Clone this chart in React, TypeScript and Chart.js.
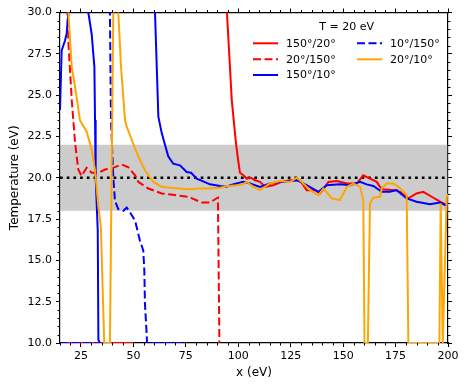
import React, { useEffect, useRef } from 'react';
import { Chart, registerables } from 'chart.js';

Chart.register(...registerables);

const FONT = "'DejaVu Sans', sans-serif";

// ---- axes ----
const xMin = 15;
const xMax = 200;
const yMin = 10;
const yMax = 30;
const xTickValues = [25, 50, 75, 100, 125, 150, 175, 200];
const yTickValues = [10, 12.5, 15, 17.5, 20, 22.5, 25, 27.5, 30];
const xMinorStep = 5;
const yMinorStep = 0.5;
const xLabel = 'x (eV)';
const yLabel = 'Temperature (eV)';

// ---- reference level and band ----
const refTemp = 20;
const bandLow = 18;
const bandHigh = 22;

// ---- series: 150°/20° (red solid) ----
const s150_20X = [15, 20, 25, 30, 35, 40, 45, 50, 51,
  93.6, 94.6, 96.9, 98.9, 100.0, 100.8, 102.4, 104, 106, 108, 110.4, 112.8, 116.7, 120.7, 124.7, 129.4,
  132.6, 136.6, 139, 143, 147, 151.8, 156.5, 159.6, 162.8, 166, 168.4, 174.8, 177.1, 181.1, 185, 188.2,
  192.2, 196.2, 198.6, 200];
const s150_20Y = [10, 10, 10, 10, 10, 10, 10, 10, null,
  31, 30, 24.7, 22.1, 21.0, 20.3, 20.15, 19.95, 20.0, 19.85, 19.75, 19.45, 19.55, 19.75, 19.85, 19.85,
  19.25, 19.25, 19.05, 19.75, 19.8, 19.65, 19.65, 20.15, 19.95, 19.75, 19.3, 19.25, 19.15, 18.75, 19.05, 19.15,
  18.85, 18.55, 18.4, 18.4];

// ---- series: 20°/150° (red dashed) ----
const s20_150X = [18.3, 19, 20.6, 22.2, 23.7, 25.3, 27.7, 30.1, 33.3, 36.5, 40.3, 44.4, 47.4, 50.8,
  52.3, 57.1, 63.5, 69.8, 76.2, 82.6, 86.5, 88.9, 90.3, 91.0];
const s20_150Y = [31, 28.2, 24.7, 22.1, 20.5, 20.1, 20.6, 20.3, 20.3, 20.5, 20.6, 20.8, 20.65, 20.15,
  19.75, 19.35, 19.05, 18.95, 18.85, 18.5, 18.5, 18.7, 18.8, 10];

// ---- series: 150°/10° (blue solid) ----
const s150_10X = [15, 15.8, 17.4, 18.2, 19, 19.3, 19.4,
  28.2, 28.5, 30.1, 31.4, 31.7, 32, 33, 33.3, 34, 34.1,
  60.0, 60.3, 61.9, 63.5, 66.6, 69, 72.2, 75.4, 77.5, 80.2, 83, 86.5, 91.3, 94.5, 96.1, 99.2, 102.4,
  105.6, 110.4, 115.1, 119.9, 124.7, 127.9, 132.6, 138.2, 142.2, 148.5, 153.3, 158.1, 161.2, 164.4,
  168.4, 172.3, 175.5, 180.3, 185, 191.4, 196.2, 198.6, 200];
const s150_10Y = [24.1, 27.7, 28.3, 28.75, 30, 31, null,
  31, 30, 28.7, 26.7, 23.5, 20, 16.8, 10.2, 10, null,
  31, 30, 23.7, 22.7, 21.3, 20.85, 20.75, 20.35, 20.3, 19.95, 19.8, 19.6, 19.5, 19.45, 19.55, 19.65, 19.75,
  19.65, 19.45, 19.65, 19.75, 19.8, 19.85, 19.55, 19.15, 19.55, 19.6, 19.55, 19.75, 19.6, 19.5,
  19.15, 19.15, 19.25, 18.75, 18.55, 18.4, 18.5, 18.35, 18.3];

// ---- series: 10°/150° (blue dashed) ----
const s10_150X = [15, 33, 33.1,
  38.7, 38.8, 39.3, 40, 40.4, 41.2, 42.8, 45.2, 46.8, 48.4, 50.8, 53.1, 54.7, 55.2, 55.5, 56.3, 56.5, 73];
const s10_150Y = [10, 10, null,
  31, 30, 23.5, 21.3, 20.05, 18.6, 18.1, 18.0, 18.2, 17.9, 17.4, 16.2, 15.6, 14.4, 12.4, 10.6, 10, 10];

// ---- series: 20°/10° (orange solid) ----
const s20_10X = [18.7, 19, 20.6, 22.2, 24.5, 25.3, 27.7, 30.1, 31.7, 33.2, 34.5, 36.1, 38.8, 40.4, 40.6, 40.7,
  42.6, 42.8, 44.1, 46, 46.8, 49.2, 52.3, 55.5, 59.5, 63.5, 67.5, 72, 76.2, 81.8, 86, 91.3, 95, 99.2, 102,
  104, 107.2, 110.4, 115.1, 119.9, 124.7, 127.9, 131, 134.2, 138.2, 140.6, 144.6, 148.5, 151.8, 154.9, 158.1,
  159.6, 160.2, 161.8, 162.8, 164.4, 167.6, 168.4, 170.7, 174, 176.3, 178.7, 180.3, 181.1, 195.9, 196.5,
  197.5, 199.4, 200];
const s20_10Y = [31, 30, 26.7, 25.5, 23.5, 23.3, 22.8, 21.7, 20.45, 18.4, 17.0, 10, 10, 30, 31, null,
  31, 30, 26.7, 23.5, 23.1, 22.3, 21.3, 20.45, 19.75, 19.45, 19.4, 19.35, 19.3, 19.35, 19.35, 19.4, 19.5, 19.55, 19.6,
  19.75, 19.45, 19.25, 19.65, 19.8, 19.75, 20.0, 19.65, 19.25, 18.95, 19.35, 18.75, 18.65, 19.45, 19.65, 19.45,
  18.65, 10, 10, 18.45, 18.8, 18.85, 19.35, 19.65, 19.65, 19.45, 19.15, 18.95, 10, 10, 18.45,
  10, 18.85, 19.0];

// ---- legend ----
const legendTitle = 'T = 20 eV';
const seriesLabels = ['150°/20°', '20°/150°', '150°/10°', '10°/150°', '20°/10°'];
const seriesColors = ['#ff0000', '#ff0000', '#0000ff', '#0000ff', '#ffa500'];
const seriesDashed = [false, true, false, true, false];

const DASH = [8, 3.5];

function pts(xs: number[], ys: (number | null)[]) {
  return xs.map((x, i) => ({ x, y: ys[i] }));
}

function drawMinorTicks(chart: any) {
  const ctx = chart.ctx;
  const a = chart.chartArea;
  const sx = chart.scales.x;
  const sy = chart.scales.y;
  ctx.save();
  ctx.setLineDash([]);
  ctx.strokeStyle = '#000';
  ctx.lineWidth = 1;
  ctx.beginPath();
  for (let k = 0; k <= Math.round((xMax - xMin) / xMinorStep); k++) {
    const v = xMin + k * xMinorStep;
    if (xTickValues.indexOf(v) >= 0) continue;
    const p = Math.round(sx.getPixelForValue(v)) + 0.5;
    ctx.moveTo(p, a.bottom);
    ctx.lineTo(p, a.bottom + 2.5);
    ctx.moveTo(p, a.top);
    ctx.lineTo(p, a.top - 2.5);
  }
  for (let k = 0; k <= Math.round((yMax - yMin) / yMinorStep); k++) {
    const v = Math.round((yMin + k * yMinorStep) * 10) / 10;
    if (yTickValues.indexOf(v) >= 0) continue;
    const p = Math.round(sy.getPixelForValue(v)) + 0.5;
    ctx.moveTo(a.left, p);
    ctx.lineTo(a.left - 2.5, p);
    ctx.moveTo(a.right, p);
    ctx.lineTo(a.right + 2.5, p);
  }
  ctx.stroke();
  ctx.restore();
}

function drawLegend(chart: any) {
  const ctx = chart.ctx;
  const a = chart.chartArea;
  ctx.save();
  ctx.font = `11px ${FONT}`;
  ctx.fillStyle = '#000';
  ctx.textBaseline = 'middle';
  ctx.textAlign = 'center';
  ctx.fillText(legendTitle, a.right - 101.3, a.top + 14.2);
  ctx.textAlign = 'left';
  const cols = [a.right - 195, a.right - 91];
  const rows = [a.top + 30.8, a.top + 46.8, a.top + 62.5];
  seriesLabels.forEach((lab, i) => {
    const col = i < 3 ? 0 : 1;
    const row = i < 3 ? i : i - 3;
    const x0 = cols[col];
    const y = rows[row];
    ctx.strokeStyle = seriesColors[i];
    ctx.lineWidth = 2;
    ctx.setLineDash(seriesDashed[i] ? DASH : []);
    ctx.beginPath();
    ctx.moveTo(x0, y);
    ctx.lineTo(x0 + 25, y);
    ctx.stroke();
    ctx.setLineDash([]);
    ctx.fillText(lab, x0 + 33, y + 0.5);
  });
  ctx.restore();
}

const overlayPlugin = {
  id: 'overlayFrameLegend',
  afterDraw(chart: any) {
    drawMinorTicks(chart);
    drawLegend(chart);
  },
};

const gridOpts = {
  display: true,
  drawOnChartArea: false,
  drawTicks: true,
  tickLength: 4,
  color: '#000',
  lineWidth: 1,
};
const borderOpts = { display: true, color: '#000', width: 1.2 };

export default function App() {
  const ref = useRef<HTMLCanvasElement | null>(null);

  useEffect(() => {
    if (!ref.current) return;
    const seriesData = [
      pts(s150_20X, s150_20Y),
      pts(s20_150X, s20_150Y),
      pts(s150_10X, s150_10Y),
      pts(s10_150X, s10_150Y),
      pts(s20_10X, s20_10Y),
    ];
    const orders = [5, 4, 3, 2, 1];
    const seriesSets = seriesData.map((d, i) => ({
      label: seriesLabels[i],
      data: d,
      borderColor: seriesColors[i],
      borderWidth: 2,
      borderDash: seriesDashed[i] ? DASH : [],
      pointRadius: 0,
      fill: false,
      tension: 0,
      spanGaps: false,
      order: orders[i],
    }));

    const setXTicks = (s: any) => {
      s.ticks = xTickValues.map((v) => ({ value: v }));
    };
    const setYTicks = (s: any) => {
      s.ticks = yTickValues.map((v) => ({ value: v }));
    };

    const chart = new Chart(ref.current, {
      type: 'line',
      data: {
        datasets: [
          {
            label: 'bandHigh',
            data: [{ x: xMin, y: bandHigh }, { x: xMax, y: bandHigh }],
            borderWidth: 0,
            pointRadius: 0,
            fill: '+1',
            backgroundColor: 'rgba(128,128,128,0.4)',
            order: 20,
          } as any,
          {
            label: 'bandLow',
            data: [{ x: xMin, y: bandLow }, { x: xMax, y: bandLow }],
            borderWidth: 0,
            pointRadius: 0,
            fill: false,
            order: 21,
          },
          {
            label: 'ref',
            data: [{ x: xMin, y: refTemp }, { x: xMax, y: refTemp }],
            borderColor: '#000',
            borderWidth: 2.7,
            borderDash: [2.7, 4],
            pointRadius: 0,
            fill: false,
            order: 10,
          },
          ...seriesSets,
        ],
      },
      options: {
        animation: false,
        responsive: false,
        maintainAspectRatio: false,
        layout: { padding: { top: 8.5, right: 16, left: 0, bottom: 0 } },
        plugins: {
          legend: { display: false },
          tooltip: { enabled: false },
        },
        scales: {
          x: {
            type: 'linear',
            position: 'bottom',
            min: xMin,
            max: xMax,
            grid: gridOpts,
            border: borderOpts,
            afterBuildTicks: setXTicks,
            afterFit: (s: any) => {
              s.height = 45;
            },
            ticks: {
              font: { family: FONT, size: 11 },
              color: '#000',
              padding: 3,
              maxRotation: 0,
              callback: (v: any) => String(v),
            },
            title: {
              display: true,
              text: xLabel,
              font: { family: FONT, size: 12 },
              color: '#000',
              padding: 8,
            },
          },
          xTop: {
            type: 'linear',
            position: 'top',
            min: xMin,
            max: xMax,
            grid: gridOpts,
            border: borderOpts,
            afterBuildTicks: setXTicks,
            afterFit: (s: any) => {
              s.height = 4;
            },
            ticks: { display: false },
          },
          y: {
            type: 'linear',
            position: 'left',
            min: yMin,
            max: yMax,
            grid: gridOpts,
            border: borderOpts,
            afterBuildTicks: setYTicks,
            afterFit: (s: any) => {
              s.width = 60;
            },
            ticks: {
              font: { family: FONT, size: 11 },
              color: '#000',
              padding: 4,
              callback: (v: any) => Number(v).toFixed(1),
            },
            title: {
              display: true,
              text: yLabel,
              font: { family: FONT, size: 12 },
              color: '#000',
              padding: 8,
            },
          },
          yRight: {
            type: 'linear',
            position: 'right',
            min: yMin,
            max: yMax,
            grid: gridOpts,
            border: borderOpts,
            afterBuildTicks: setYTicks,
            afterFit: (s: any) => {
              s.width = 4;
            },
            ticks: { display: false },
          },
        },
      },
      plugins: [overlayPlugin],
    });
    return () => chart.destroy();
  }, []);

  return (
    <div style={{ position: 'fixed', left: 0, top: 0, width: 468, height: 388, background: '#fff' }}>
      <canvas ref={ref} width={468} height={388} />
    </div>
  );
}
